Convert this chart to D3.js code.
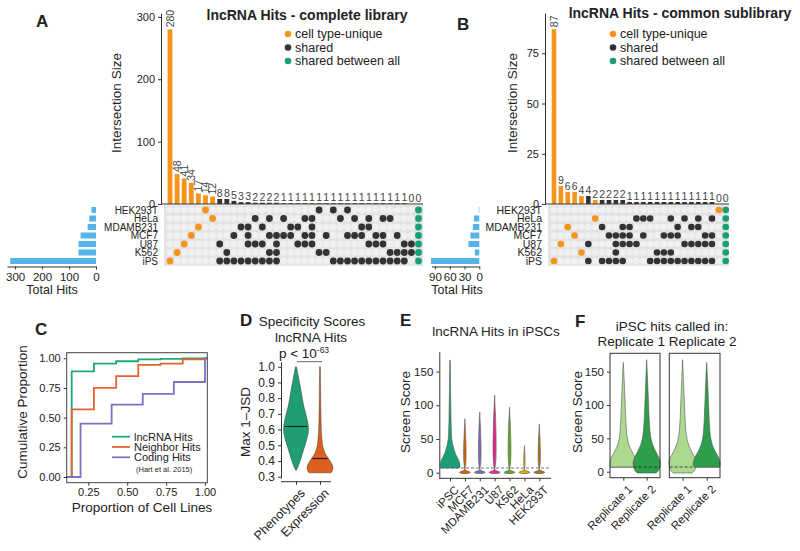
<!DOCTYPE html>
<html>
<head>
<meta charset="utf-8">
<style>
body { margin: 0; background: #fff; }
</style>
<script src="https://cdnjs.cloudflare.com/ajax/libs/d3/7.8.5/d3.min.js"></script>
</head>
<body>
<svg width="800" height="551"></svg>
<script>
var font = "Liberation Sans, Arial, Helvetica, sans-serif";

// ---- data ----
var setNames = ["HEK293T", "HeLa", "MDAMB231", "MCF7", "U87", "K562", "iPS"];

// A: complete library
var aSizes = [280, 48, 41, 34, 17, 14, 12, 8, 8, 5, 3, 3, 2, 2, 2, 2,
  1, 1, 1, 1, 1, 1, 1, 1, 1, 1, 1, 1, 1, 1, 1, 1, 1, 1, 0, 0];
var aMatrix = [
  [5, 21, 23, 25, 35],
  [6, 12, 14, 16, 19, 20, 24, 26, 28, 30, 31, 35],
  [4, 10, 11, 13, 17, 18, 20, 27, 28, 35],
  [3, 9, 11, 14, 15, 16, 17, 19, 20, 22, 25, 26, 27, 29, 30, 32, 35],
  [2, 7, 11, 12, 13, 15, 18, 19, 20, 28, 29, 30, 33, 34, 35],
  [1, 8, 14, 15, 21, 22, 31, 32, 33, 34, 35],
  [0, 7, 8, 9, 10, 11, 12, 13, 14, 15, 23, 24, 25, 26, 27, 28, 29, 30, 31, 32, 33, 35]
];
var aTotals = [17, 25, 31, 57, 65, 65, 318];

// B: common sublibrary
var bSizes = [87, 9, 6, 6, 4, 4, 2, 2, 2, 2, 2,
  1, 1, 1, 1, 1, 1, 1, 1, 1, 1, 1, 1, 1, 0, 0];
var bMatrix = [
  [24, 25],
  [6, 12, 13, 14, 17, 19, 21, 23, 25],
  [2, 7, 10, 11, 18, 20, 21, 25],
  [3, 8, 9, 10, 11, 13, 16, 17, 18, 22, 23, 25],
  [1, 5, 9, 10, 11, 12, 19, 20, 21, 22, 23, 25],
  [4, 9, 15, 16, 17, 25],
  [0, 5, 7, 8, 9, 10, 14, 15, 16, 17, 18, 19, 20, 21, 22, 23, 25]
];
var bTotals = [1, 11, 13, 18, 22, 9, 98];

var legendLabels = ["cell type-unique", "shared", "shared between all"];

// C: cumulative proportion
var cSeries = ["lncRNA Hits", "Neighbor Hits", "Coding Hits"];
var lncSteps = [0.143, 0.286, 0.429, 0.571, 0.714, 0.857, 1.0];
var lncCum = [0.89, 0.955, 0.975, 0.99, 0.995, 0.998, 1.0];
var neighborSteps = [0.143, 0.286, 0.429, 0.571, 0.714, 0.857, 1.0];
var neighborCum = [0.57, 0.75, 0.85, 0.945, 0.955, 0.99, 1.0];
var codingSteps = [0.2, 0.4, 0.6, 0.8, 1.0];
var codingCum = [0.45, 0.61, 0.70, 0.80, 1.0];

// D: specificity violins
var dGroups = ["Phenotypes", "Expression"];
var phenoLevels = [1.0, 0.95, 0.9, 0.85, 0.8, 0.75, 0.7, 0.65, 0.6, 0.55, 0.5, 0.45, 0.4, 0.36, 0.34];
var phenoDensity = [0.04, 0.16, 0.28, 0.4, 0.5, 0.62, 0.78, 0.93, 1.0, 0.9, 0.72, 0.52, 0.33, 0.14, 0.02];
var exprLevels = [1.0, 0.9, 0.8, 0.7, 0.6, 0.55, 0.5, 0.47, 0.44, 0.41, 0.38, 0.36, 0.34, 0.325];
var exprDensity = [0.03, 0.04, 0.05, 0.07, 0.1, 0.14, 0.2, 0.3, 0.45, 0.7, 0.92, 1.0, 0.95, 0.85];
var dMedians = [0.62, 0.415];

// E: screen scores per cell line
var eLines = ["iPSC", "MCF7", "MDAMB231", "U87", "K562", "HeLa", "HEK293T"];
var eTops = [167, 80, 90, 115, 97, 40, 72];
var ipscLevels = [167, 150, 120, 100, 80, 60, 50, 40, 30, 25, 20, 15, 10, 7];
var ipscDensity = [0.02, 0.04, 0.06, 0.08, 0.1, 0.14, 0.18, 0.3, 0.5, 0.65, 0.82, 0.96, 1.0, 0.95];
var blobLevels = [5, 2, 0.5, -1.2];
var blobDensity = [0.02, 0.35, 0.55, 0.3];
var eThreshold = 7;

// F: replicate violins
var fSamples = ["Replicate 1", "Replicate 2"];
var fCutLevels = [164, 140, 120, 100, 80, 60, 50, 40, 30, 22, 15, 10, 7];
var fCutDensity = [0.0, 0.06, 0.1, 0.14, 0.18, 0.24, 0.3, 0.42, 0.65, 0.86, 0.98, 1.0, 0.92];
var fFullLevels = [168, 140, 120, 100, 80, 60, 50, 40, 30, 22, 15, 10, 5, 2, 0, -2];
var fFullDensity = [0.0, 0.06, 0.1, 0.14, 0.18, 0.25, 0.32, 0.45, 0.68, 0.88, 1.0, 1.0, 0.95, 0.88, 0.8, 0.7];

// ---- drawing ----
var svg = d3.select("svg").attr("font-family", font);
var cUnique = "#f7941d", cShared = "#333333", cAll = "#169e74", blue = "#56b4e9";
var dark2 = ["#1b9e77", "#d95f02", "#7570b3", "#e7298a", "#66a61e", "#e6ab02", "#a6761d"];

function axisStyle(sel, size) {
  sel.attr("font-family", font).attr("font-size", size);
  sel.selectAll("text").attr("fill", "#222");
  sel.selectAll("line").attr("stroke", "#333");
  sel.select(".domain").attr("stroke", "#333");
}

function txt(x, y, s, size, anchor, weight, rot) {
  var t = svg.append("text")
    .attr("font-size", size)
    .attr("text-anchor", anchor || "start")
    .attr("font-weight", weight || "normal")
    .attr("fill", "#222")
    .text(s);
  if (rot) t.attr("transform", "translate(" + x + "," + y + ") rotate(" + rot + ")");
  else t.attr("x", x).attr("y", y);
  return t;
}

function upset(o) {
  var g = svg.append("g");
  var n = o.sizes.length;
  var colX = d3.scaleLinear().domain([0, n - 1]).range([o.x0, o.x0 + o.step * (n - 1)]);
  var y = d3.scaleLinear().domain(o.yDomain).range([o.base, o.top]);
  var rowY = d3.scalePoint().domain(setNames).range([210, 261]);
  var members = o.sizes.map(function(d, i) {
    return setNames.filter(function(s, r) { return o.matrix[r].indexOf(i) >= 0; });
  });
  function colour(i) {
    var m = members[i].length;
    return m === 1 ? cUnique : (m === setNames.length ? cAll : cShared);
  }

  g.selectAll(".bar").data(o.sizes).enter().append("rect")
    .attr("x", function(d, i) { return colX(i) - o.barW / 2; })
    .attr("y", function(d) { return y(d); })
    .attr("width", o.barW)
    .attr("height", function(d) { return y(0) - y(d); })
    .attr("fill", function(d, i) { return colour(i); });

  g.selectAll(".val").data(o.sizes).enter().append("text")
    .attr("transform", function(d, i) {
      return d >= 10 ? "translate(" + (colX(i) + 3.6) + "," + (y(d) - 2) + ") rotate(-90)"
                     : "translate(" + colX(i) + "," + (y(d) - 2) + ")";
    })
    .attr("text-anchor", function(d) { return d >= 10 ? "start" : "middle"; })
    .attr("font-size", 10.5).attr("fill", "#444")
    .text(function(d) { return d; });

  g.append("g").attr("transform", "translate(" + o.axisX + ",0)")
    .call(d3.axisLeft(y).tickValues(o.ticks).tickSize(3).tickSizeOuter(0))
    .call(axisStyle, 11);
  g.append("line").attr("x1", o.axisX).attr("x2", o.matrixRight)
    .attr("y1", y(0)).attr("y2", y(0)).attr("stroke", "#333");

  // matrix
  g.append("rect").attr("x", o.matrixLeft).attr("y", 205.3)
    .attr("width", o.matrixRight - o.matrixLeft).attr("height", 60.4).attr("fill", "#e2e2e2");
  setNames.forEach(function(s) {
    g.selectAll(null).data(o.sizes).enter().append("circle")
      .attr("cx", function(d, i) { return colX(i); })
      .attr("cy", rowY(s))
      .attr("r", o.r)
      .attr("fill", function(d, i) { return members[i].indexOf(s) >= 0 ? colour(i) : "#f0f0f0"; });
  });

  g.selectAll(".rowlab").data(setNames).enter().append("text")
    .attr("x", o.rowLabelX).attr("y", function(d) { return rowY(d); })
    .attr("dy", "0.36em").attr("text-anchor", "end")
    .attr("font-size", o.rowFont).attr("fill", "#222")
    .text(function(d) { return d; });

  // total hits
  var xt = d3.scaleLinear().domain([0, o.totMax]).range([o.totZero, o.totLeft]);
  g.selectAll(".tot").data(o.totals).enter().append("rect")
    .attr("x", function(d) { return xt(d); })
    .attr("y", function(d, i) { return rowY(setNames[i]) - 3; })
    .attr("width", function(d) { return o.totZero - xt(d); })
    .attr("height", 6)
    .attr("fill", blue);
  g.append("g").attr("transform", "translate(0," + o.totAxisY + ")")
    .call(d3.axisBottom(xt).tickValues(o.totTicks).tickSize(3).tickSizeOuter(0))
    .call(axisStyle, 11.5);
  txt(o.totLabelX, 294, "Total Hits", 12.5, "middle");

  txt(o.ylabX, o.ylabY, "Intersection Size", 13.5, "middle", "normal", -90);
  txt(o.titleX, o.titleY, o.title, 14, "middle", "bold");

  legendLabels.forEach(function(l, i) {
    var ly = 34 + i * 13.5;
    svg.append("circle").attr("cx", o.legX).attr("cy", ly).attr("r", 3.3)
      .attr("fill", [cUnique, cShared, cAll][i]);
    txt(o.legX + 7, ly + 4.3, l, 12.5, "start");
  });
}

upset({
  sizes: aSizes, matrix: aMatrix, totals: aTotals,
  x0: 170, step: 7.1, barW: 4.8, yDomain: [0, 306], base: 204, top: 13.1,
  ticks: [0, 100, 200, 300], axisX: 161, matrixLeft: 164, matrixRight: 423, r: 3.4,
  rowLabelX: 158, rowFont: 10,
  totMax: 330, totZero: 96, totLeft: 7, totTicks: [0, 100, 200, 300], totAxisY: 266.5, totLabelX: 52,
  ylabX: 121, ylabY: 103, title: "lncRNA Hits - complete library", titleX: 307, titleY: 20, legX: 288
});
upset({
  sizes: bSizes, matrix: bMatrix, totals: bTotals,
  x0: 554, step: 6.87, barW: 4.6, yDomain: [0, 95], base: 204, top: 13.1,
  ticks: [0, 25, 50, 75], axisX: 545, matrixLeft: 548, matrixRight: 729, r: 3.3,
  rowLabelX: 542, rowFont: 10.5,
  totMax: 97, totZero: 479.3, totLeft: 431.5, totTicks: [0, 30, 60, 90], totAxisY: 266.5, totLabelX: 457,
  ylabX: 517, ylabY: 103, title: "lncRNA Hits - common sublibrary", titleX: 680, titleY: 18, legX: 613
});

txt(36, 27, "A", 17, "start", "bold");
txt(457, 30, "B", 17, "start", "bold");
txt(35, 335, "C", 17, "start", "bold");
txt(240, 326, "D", 17, "start", "bold");
txt(400, 326, "E", 17, "start", "bold");
txt(575, 327, "F", 17, "start", "bold");

// ---- C ----
(function() {
  var cx = d3.scaleLinear().domain([0.111, 1.015]).range([66.7, 207.3]);
  var cy = d3.scaleLinear().domain([-0.048, 1.047]).range([482.7, 352.7]);
  var g = svg.append("g");
  g.append("g").attr("transform", "translate(66.7,0)")
    .call(d3.axisLeft(cy).tickValues([0, 0.25, 0.5, 0.75, 1]).tickFormat(d3.format(".2f")).tickSize(3).tickSizeOuter(0))
    .call(axisStyle, 11).select(".domain").remove();
  g.append("g").attr("transform", "translate(0,482.7)")
    .call(d3.axisBottom(cx).tickValues([0.25, 0.5, 0.75, 1]).tickFormat(d3.format(".2f")).tickSize(3).tickSizeOuter(0))
    .call(axisStyle, 11).select(".domain").remove();

  var cols = ["#1ea77d", "#e4632b", "#7b72c4"];
  var series = [[lncSteps, lncCum], [neighborSteps, neighborCum], [codingSteps, codingCum]];
  var line = d3.line().x(function(d) { return cx(d[0]); }).y(function(d) { return cy(d[1]); })
    .curve(d3.curveStepAfter);
  series.forEach(function(s, k) {
    var pts = [[cx.domain()[0], 0]];
    s[0].forEach(function(v, i) { pts.push([v, s[1][i]]); });
    pts.push([cx.domain()[1], s[1][s[1].length - 1]]);
    g.append("path").attr("d", line(pts)).attr("fill", "none")
      .attr("stroke", cols[k]).attr("stroke-width", 1.8);
  });
  g.append("rect").attr("x", 66.7).attr("y", 352.7).attr("width", 140.6).attr("height", 130)
    .attr("fill", "none").attr("stroke", "#444").attr("stroke-width", 1);

  cSeries.forEach(function(l, i) {
    var ly = 436.7 + i * 10.3;
    g.append("line").attr("x1", 112).attr("x2", 130).attr("y1", ly).attr("y2", ly)
      .attr("stroke", cols[i]).attr("stroke-width", 1.8);
    txt(134, ly + 4, l, 11, "start");
  });
  txt(136, 472, "(Hart et al. 2015)", 7.5, "start");

  txt(27, 412, "Cumulative Proportion", 13.5, "middle", "normal", -90);
  txt(142, 512, "Proportion of Cell Lines", 13.5, "middle");
})();

function violinPath(cxPos, yScale, levels, dens, half) {
  var w = d3.scaleLinear().domain([0, 1]).range([0, half]);
  var pts = levels.map(function(l, i) { return [l, dens[i]]; });
  return d3.area()
    .y(function(d) { return yScale(d[0]); })
    .x0(function(d) { return cxPos - w(d[1]); })
    .x1(function(d) { return cxPos + w(d[1]); })
    .curve(d3.curveCatmullRom)(pts);
}

// ---- D ----
(function() {
  var g = svg.append("g");
  var y = d3.scaleLinear().domain([0.2917, 1.032]).range([478, 361.7]);
  var x = d3.scalePoint().domain(dGroups).range([296, 320]);
  g.append("g").attr("transform", "translate(281,0)")
    .call(d3.axisLeft(y).tickValues([0.3, 0.4, 0.5, 0.6, 0.7, 0.8, 0.9, 1.0]).tickFormat(d3.format(".1f")).tickSize(3).tickSizeOuter(0))
    .call(axisStyle, 12);
  var xa = g.append("g").attr("transform", "translate(0,481.7)")
    .call(d3.axisBottom(x).tickSize(3).tickSizeOuter(0))
    .call(axisStyle, 12.5);
  xa.select(".domain").remove();
  xa.selectAll("text").attr("text-anchor", "end").attr("dy", null)
    .attr("transform", "translate(5,8) rotate(-45)");
  g.append("line").attr("x1", 281).attr("x2", 331).attr("y1", 481.7).attr("y2", 481.7).attr("stroke", "#333");

  var prof = [[phenoLevels, phenoDensity, 12.5, "#1f9e76"], [exprLevels, exprDensity, 13, "#dc5e1e"]];
  prof.forEach(function(p, i) {
    var cxp = x(dGroups[i]);
    g.append("path").attr("d", violinPath(cxp, y, p[0], p[1], p[2]))
      .attr("fill", p[3]).attr("stroke", "#3a3a3a").attr("stroke-width", 0.5);
    var wm = d3.scaleLinear().domain(p[0]).range(p[1]).clamp(true)(dMedians[i]) * p[2];
    g.append("line").attr("x1", cxp - wm + 1).attr("x2", cxp + wm - 1)
      .attr("y1", y(dMedians[i])).attr("y2", y(dMedians[i])).attr("stroke", "#111").attr("stroke-width", 1);
  });
  g.append("line").attr("x1", 297).attr("x2", 322).attr("y1", 361.7).attr("y2", 361.7)
    .attr("stroke", "#444").attr("stroke-width", 0.8);

  txt(312, 326, "Specificity Scores", 13.5, "middle");
  txt(311, 342, "lncRNA Hits", 13.5, "middle");
  var p = txt(304, 358, "p < 10", 13.5, "middle");
  p.append("tspan").attr("dy", -5).attr("font-size", 8.5).text("-63");
  txt(250, 422, "Max 1\u2013JSD", 13.5, "middle", "normal", -90);
})();

// ---- E ----
(function() {
  var g = svg.append("g");
  var y = d3.scaleLinear().domain([-8.3, 179.5]).range([478.3, 351.7]);
  var x = d3.scalePoint().domain(eLines).range([450, 539.3]);
  g.append("g").attr("transform", "translate(439.3,0)")
    .call(d3.axisLeft(y).tickValues([0, 50, 100, 150]).tickSize(3).tickSizeOuter(0))
    .call(axisStyle, 11.5);
  var xa = g.append("g").attr("transform", "translate(0,478.3)")
    .call(d3.axisBottom(x).tickSize(3).tickSizeOuter(0))
    .call(axisStyle, 11.5);
  xa.select(".domain").remove();
  xa.selectAll("text").attr("text-anchor", "end").attr("dy", null)
    .attr("transform", "translate(5,8) rotate(-45)");
  g.append("line").attr("x1", 439.3).attr("x2", 551).attr("y1", 478.3).attr("y2", 478.3).attr("stroke", "#333");

  g.append("line").attr("x1", 441).attr("x2", 551).attr("y1", y(eThreshold)).attr("y2", y(eThreshold))
    .attr("stroke", "#777").attr("stroke-width", 1.1).attr("stroke-dasharray", "3,2");

  eLines.forEach(function(l, i) {
    var levels, dens;
    if (i === 0) { levels = ipscLevels; dens = ipscDensity; }
    else { levels = [eTops[i]].concat(blobLevels); dens = [0.01].concat(blobDensity); }
    g.append("path").attr("d", violinPath(x(l), y, levels, dens, 10))
      .attr("fill", dark2[i])
      .attr("stroke", "#555").attr("stroke-width", 0.6);
  });

  txt(496, 336, "lncRNA Hits in iPSCs", 13.5, "middle");
  txt(410, 412, "Screen Score", 13.5, "middle", "normal", -90);
})();

// ---- F ----
(function() {
  var g = svg.append("g");
  var y = d3.scaleLinear().domain([-9, 177.6]).range([477.7, 353.3]);
  var facets = [[610, 660], [669.3, 720]];
  var light = "#acd98e", darkg = "#2e9e4a";
  g.append("g").attr("transform", "translate(610,0)")
    .call(d3.axisLeft(y).tickValues([0, 50, 100, 150]).tickSize(3).tickSizeOuter(0))
    .call(axisStyle, 11.5).select(".domain").remove();

  facets.forEach(function(f, k) {
    var x = d3.scalePoint().domain(fSamples).range([f[0] + 13.3, f[1] - 13.3]);
    g.append("line").attr("x1", f[0]).attr("x2", f[1]).attr("y1", y(eThreshold)).attr("y2", y(eThreshold))
      .attr("stroke", "#222").attr("stroke-width", 0.8);
    fSamples.forEach(function(s, j) {
      var full = (j !== k);
      g.append("path")
        .attr("d", violinPath(x(s), y, full ? fFullLevels : fCutLevels, full ? fFullDensity : fCutDensity, 13.5))
        .attr("fill", j === 0 ? light : darkg).attr("stroke", "#555").attr("stroke-width", 0.6);
      if (full) {
        g.append("line").attr("x1", x(s) - 13).attr("x2", x(s) + 13)
          .attr("y1", y(eThreshold)).attr("y2", y(eThreshold))
          .attr("stroke", "#222").attr("stroke-width", 0.8).attr("stroke-dasharray", "3,2");
      }
    });
    g.append("rect").attr("x", f[0]).attr("y", 353.3).attr("width", f[1] - f[0]).attr("height", 124.4)
      .attr("fill", "none").attr("stroke", "#333").attr("stroke-width", 1);
    var xa = g.append("g").attr("transform", "translate(0,477.7)")
      .call(d3.axisBottom(x).tickSize(3).tickSizeOuter(0))
      .call(axisStyle, 11.5);
    xa.select(".domain").remove();
    xa.selectAll("text").attr("text-anchor", "end").attr("dy", null)
      .attr("transform", "translate(5,8) rotate(-45)");
  });

  txt(672, 331, "iPSC hits called in:", 13.5, "middle");
  txt(667, 346, "Replicate 1 Replicate 2", 13.5, "middle");
  txt(582, 412, "Screen Score", 13.5, "middle", "normal", -90);
})();
</script>
</body>
</html>
